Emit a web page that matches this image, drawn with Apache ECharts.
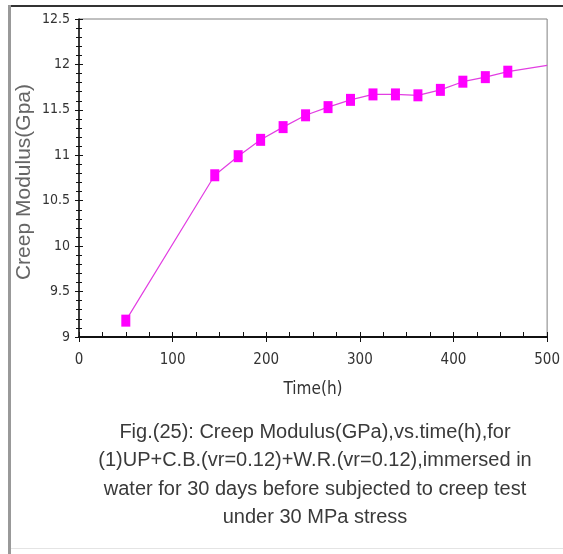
<!DOCTYPE html>
<html>
<head>
<meta charset="utf-8">
<script src="https://cdn.jsdelivr.net/npm/echarts@6/dist/echarts.min.js"></script>
<style>
  html, body { margin: 0; padding: 0; background: #fff; }
  #main { width: 563px; height: 554px; }
</style>
</head>
<body>
<div id="main"></div>
<script>
// data
const timeH = [50, 145, 170, 194, 218, 242, 266, 290, 314, 338, 362, 386, 410, 434, 458, 500]
const modulus = [9.18, 10.78, 10.99, 11.17, 11.31, 11.44, 11.53, 11.61, 11.67, 11.67, 11.66, 11.72, 11.81, 11.86, 11.92, 11.99]
const xTicks = [0, 100, 200, 300, 400, 500]
const yTicks = [9, 9.5, 10, 10.5, 11, 11.5, 12, 12.5]
const caption = [
    'Fig.(25): Creep Modulus(GPa),vs.time(h),for',
    '(1)UP+C.B.(vr=0.12)+W.R.(vr=0.12),immersed in',
    'water for 30 days before subjected to creep test',
    'under 30 MPa stress'
]

const narrow = "'Liberation Sans Narrow', 'DejaVu Sans Condensed', sans-serif"

const chart = echarts.init(document.getElementById('main'))

// last point has no marker in the figure, the line just runs into the frame
const points = timeH.map((t, i) => {
    const item = { value: [t, modulus[i]] }
    if (i === timeH.length - 1) item.symbol = 'none'
    return item
})

const yBase = {
    type: 'value',
    min: yTicks[0],
    max: yTicks[yTicks.length - 1],
    interval: 0.5,
    position: 'left',
    splitLine: { show: false }
}
const xBase = {
    type: 'value',
    min: xTicks[0],
    max: xTicks[xTicks.length - 1],
    interval: 100,
    position: 'bottom',
    splitLine: { show: false }
}

// caption lines, one text each
const captionTop = 432
const captionStep = 28.5
const captionText = caption.map((line, i) => ({
    type: 'text',
    x: 315,
    y: captionTop + i * captionStep,
    style: {
        text: line,
        textAlign: 'center',
        textVerticalAlign: 'middle',
        fill: '#3a3a3a',
        font: "20px 'Liberation Sans', Arial, sans-serif"
    }
}))

chart.setOption({
    animation: false,
    backgroundColor: '#fff',
    grid: {
        left: 79, right: 15, top: 19, bottom: 217,
        show: true,
        borderColor: '#808080',
        borderWidth: 1
    },
    xAxis: [
        Object.assign({}, xBase, {
            axisLine: { show: true, lineStyle: { color: '#111', width: 2 } },
            axisTick: { show: true, inside: false, length: 5, lineStyle: { color: '#111', width: 1 } },
            minorTick: { show: false },
            axisLabel: {
                margin: 16, color: '#333', fontSize: 15, fontFamily: narrow,
                formatter: v => (xTicks.includes(v) ? String(v) : '')
            },
            name: 'Time(h)',
            nameLocation: 'middle',
            nameGap: 44,
            nameTextStyle: { color: '#333', fontSize: 17, fontFamily: narrow }
        }),
        Object.assign({}, xBase, {
            axisLine: { show: false },
            axisTick: { show: true, inside: true, length: 5, lineStyle: { color: '#111', width: 1 } },
            minorTick: { show: true, splitNumber: 4, length: 5, lineStyle: { color: '#111', width: 1 } },
            axisLabel: { show: false }
        })
    ],
    yAxis: [
        Object.assign({}, yBase, {
            axisLine: { show: true, lineStyle: { color: '#111', width: 1.5 } },
            axisTick: { show: true, inside: false, length: 4, lineStyle: { color: '#111', width: 1 } },
            minorTick: { show: true, splitNumber: 5, length: 3, lineStyle: { color: '#111', width: 1 } },
            axisLabel: {
                margin: 9, color: '#333', fontSize: 14, fontFamily: narrow,
                formatter: v => (yTicks.includes(v) ? String(v) : '')
            },
            name: 'Creep Modulus(Gpa)',
            nameLocation: 'middle',
            nameRotate: 90,
            nameGap: 44,
            nameMoveOverlap: false,
            nameTextStyle: {
                color: '#666', fontSize: 21,
                fontFamily: "'Liberation Sans', Arial, sans-serif",
                padding: [0, 8, 0, 0]
            }
        }),
        Object.assign({}, yBase, {
            axisLine: { show: false },
            axisTick: { show: true, inside: true, length: 4, lineStyle: { color: '#111', width: 1 } },
            minorTick: { show: true, splitNumber: 5, length: 3, lineStyle: { color: '#111', width: 1 } },
            axisLabel: { show: false }
        })
    ],
    graphic: [
        // outer frame of the scanned figure
        { type: 'rect', shape: { x: 8, y: 5, width: 555, height: 2 }, style: { fill: '#333' } },
        { type: 'rect', shape: { x: 8, y: 5, width: 3, height: 549 }, style: { fill: '#999' } },
        { type: 'rect', shape: { x: 11, y: 548, width: 552, height: 1 }, style: { fill: '#e4e4e4' } }
    ].concat(captionText),
    series: [
        {
            type: 'line',
            xAxisIndex: 0,
            yAxisIndex: 0,
            data: points,
            symbol: 'rect',
            symbolSize: [9, 12],
            itemStyle: { color: '#ff00ff' },
            lineStyle: { color: '#e23ee2', width: 1.2 },
            clip: true
        }
    ]
})
</script>
</body>
</html>
